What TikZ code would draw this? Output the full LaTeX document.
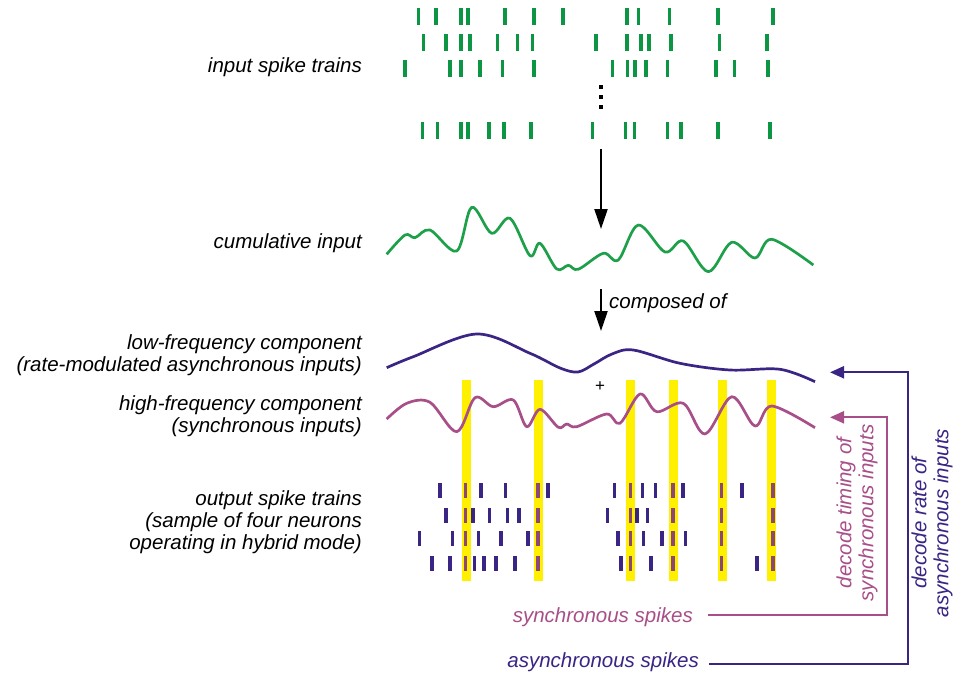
\documentclass[tikz,border=0pt]{standalone}
\usepackage{fontspec}
\setmainfont{Liberation Sans}
\usetikzlibrary{arrows.meta}

\definecolor{spkgreen}{RGB}{12,150,68}
\definecolor{wavegreen}{RGB}{30,160,75}
\definecolor{asyncol}{RGB}{58,36,132}
\definecolor{syncol}{RGB}{168,78,136}
\definecolor{mixcol}{RGB}{140,70,120}
\definecolor{barcol}{RGB}{255,240,0}

\tikzset{
  lbl/.style={font=\itshape\fontsize{20.5}{22}\selectfont, inner sep=0pt, align=right, anchor=east},
  sidelbl/.style={font=\itshape\fontsize{20.5}{22}\selectfont, inner sep=0pt, align=center, rotate=90},
  downarrow/.style={line width=2.2pt, -{Triangle[width=13pt,length=20pt]}},
  backarrow/.style={line width=2.2pt, -{Triangle[width=12pt,length=14pt]}},
  wave/.style={line width=2.7pt, smooth, tension=0.55, line join=round}
}

\begin{document}
\begin{tikzpicture}[x=1pt,y=-1pt]
  \useasboundingbox (0,0) rectangle (965,679);

  % input spike trains
  \foreach \x in {418.3,436,460.7,467.7,505,534,563,627,638.3,669.3,717.7,772.7}
    \fill[spkgreen] (\x-1.8,8) rectangle ++(3.6,17);
  \foreach \x in {423.3,445.7,460.7,470,497.3,517.3,532.3,595.7,627,640.7,648.7,671,719.3,767}
    \fill[spkgreen] (\x-1.8,34) rectangle ++(3.6,17);
  \foreach \x in {405,450,461,480,502.3,534,612.3,627.3,635,645.7,667.3,716,734.3,767.7}
    \fill[spkgreen] (\x-1.8,60) rectangle ++(3.6,17);
  \foreach \x in {422.3,437.3,460.7,467.7,489,504,531,592.3,625.3,634.3,667.3,681,717.7,770}
    \fill[spkgreen] (\x-1.8,122) rectangle ++(3.6,17);
  \foreach \y in {87.3,97.3,107.3}
    \fill (598.5,\y-2.2) rectangle ++(4.4,4.4);

  \node[lbl] at (362,67) (inlbl) {input spike trains};

  \coordinate (a1) at (601,149);
  \coordinate (a2) at (601,229);
  \draw[downarrow] (a1) -- (a2);

  % cumulative input
  \draw[wavegreen, wave] plot coordinates {(386.7,254.3) (405,235) (415,237.7) (430,230) (456.7,251) (471.7,207.3) (491.7,233.3) (510,218.3) (530,255.7) (540,243.3) (556.7,269) (568.3,265.3) (578.3,269.3) (603.3,253.3) (618.3,260) (638.3,225) (665,252) (683.3,241) (708.3,271.7) (731.7,242.3) (755,258) (771.7,239.3) (813.3,265)};
  \node[lbl] at (362,243) (cumlbl) {cumulative input};

  \coordinate (b1) at (601,289);
  \coordinate (b2) at (601,331);
  \draw[downarrow] (b1) -- (b2);
  \node[lbl, anchor=west] at (609,303) (comp) {composed of};

  % yellow bars
  \foreach \x in {466,538,630.5,673,722,771}
    \fill[barcol] (\x-4.5,380) rectangle ++(9,201);

  % components
  \draw[asyncol, wave] plot coordinates {(386.7,367.7) (413.3,356.7) (476.7,334) (530,353.3) (560,368) (578,372) (594,364) (612,354) (633.3,350) (680,363.3) (730,370) (780,369.3) (815,381.7)};
  \draw[syncol, wave] plot coordinates {(386.7,419) (406.7,403.3) (430,402.3) (456.7,431.7) (475,397.7) (493.3,406.7) (513.3,400) (526.7,426.7) (540,409.3) (558.3,427.3) (566.7,424) (576.7,426.7) (606.7,414) (620,423.3) (640,394) (656.7,411.7) (683.3,403.3) (705,434) (731.7,396.7) (755,426) (771.7,406) (815,427.7)};
  \node[font=\fontsize{17}{17}\selectfont, inner sep=0pt] at (600,387) (plus) {+};

  \node[lbl] at (362,355) (lowlbl) {low-frequency component\\(rate-modulated asynchronous inputs)};
  \node[lbl] at (362,416) (highlbl) {high-frequency component\\(synchronous inputs)};

  % output spike trains
  \foreach \x in {440,481,505.3,547.7,614.3,642.3,655.3,682.7,741.7}
    \fill[asyncol] (\x-1.8,483) rectangle ++(3.6,15);
  \foreach \x in {446,472.7,489.3,507.3,519,607.3,636.7,647.3}
    \fill[asyncol] (\x-1.8,507.5) rectangle ++(3.6,15);
  \foreach \x in {419.3,452.3,478.3,500.7,528,617.7,643.3,662,685.3}
    \fill[asyncol] (\x-1.8,531) rectangle ++(3.6,15);
  \foreach \x in {431.7,450,474.3,483.7,495.7,515,620.7,650.7,756.7}
    \fill[asyncol] (\x-1.8,556) rectangle ++(3.6,15);
  \foreach \x in {465.5,538,630.5,673,721.5,772.7}
    \foreach \y in {483,507.5,531,556}
      \fill[mixcol] (\x-1.8,\y) rectangle ++(3.6,15);

  \node[lbl] at (362,522) (outlbl) {output spike trains\\(sample of four neurons\\operating in hybrid mode)};

  % decoding
  \node[lbl, anchor=east, syncol] at (693,617) (synlbl) {synchronous spikes};
  \node[lbl, anchor=east, asyncol] at (699,662) (asynlbl) {asynchronous spikes};
  \coordinate (hightip) at (830,417.3);
  \coordinate (lowtip) at (830,372.3);
  \coordinate (scorner) at (886.7,417.3);
  \coordinate (acorner) at (908,372.3);
  \draw[syncol, backarrow] ([xshift=15pt,yshift=2pt]synlbl.east) -| (scorner) -- (hightip);
  \draw[asyncol, backarrow] ([xshift=10pt,yshift=-2pt]asynlbl.east) -| (acorner) -- (lowtip);

  \node[sidelbl, syncol] at (857,513) (timlbl) {decode timing of\\synchronous inputs};
  \node[sidelbl, asyncol] at (932,523) (ratelbl) {decode rate of\\asynchronous inputs};
\end{tikzpicture}
\end{document}
